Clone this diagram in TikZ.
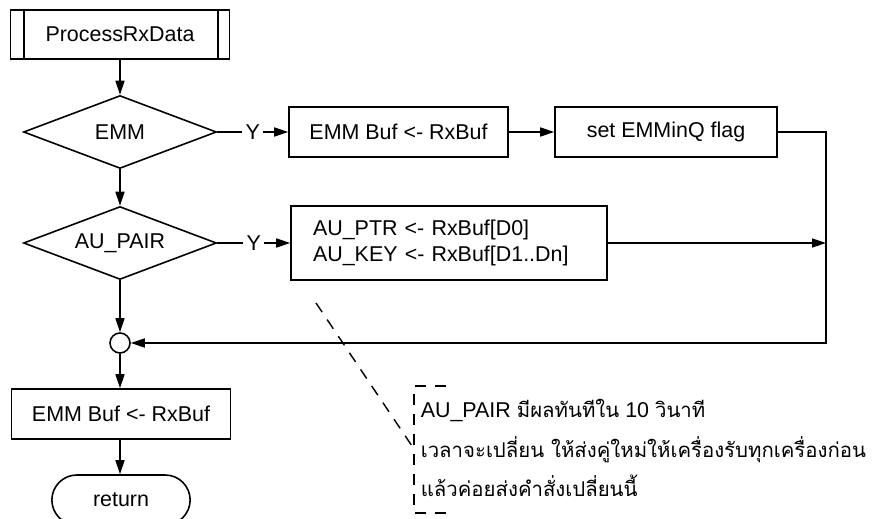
\documentclass[tikz,border=0pt]{standalone}
\usepackage{fontspec}
\setmainfont{Liberation Sans}
\newfontfamily\thaifont[Script=Thai, Scale=0.95]{Loma}
\usetikzlibrary{arrows.meta,shapes.geometric,shapes.misc,calc}

\begin{document}
\begin{tikzpicture}[x=0.02cm, y=-0.02cm, line width=0.9pt,
  >={Triangle[length=0.28cm, width=0.18cm]},
  font=\fontsize{12.2}{14.6}\selectfont,
  procbox/.style={draw, rectangle, minimum width=4.38cm, minimum height=1cm, inner sep=2pt},
  decide/.style={draw, diamond, aspect=2.6, inner sep=1pt, minimum width=3.86cm, minimum height=1.46cm},
  joint/.style={draw, circle, minimum size=0.4cm, inner sep=0pt},
  termbox/.style={draw, rounded rectangle, minimum width=3cm, minimum height=1cm},
  yes/.style={fill=white, inner sep=2pt},
  notedash/.style={line width=0.8pt, dash pattern=on 0.22cm off 0.18cm}]
  \useasboundingbox (0,0) rectangle (875,519);

  %% Main column
  \node[procbox, minimum height=0.98cm] (start) at (120,34.5) {ProcessRxData};
  \draw ($(start.north west)+(14,0)$) -- ($(start.south west)+(14,0)$);
  \draw ($(start.north east)+(-12,0)$) -- ($(start.south east)+(-12,0)$);
  \node[decide] (emm) at (120,132) {EMM};
  \node[decide] (au)  at (120,243) {AU\_PAIR};
  \node[joint] (junc) at (120,343) {};
  \node[procbox] (emmbuf2) at (121,414) {EMM Buf <- RxBuf};
  \node[termbox] (ret) at (121,500) {return};

  %% Right branches
  \node[procbox] (emmbuf) at (398.5,132) {EMM Buf <- RxBuf};
  \node[procbox, minimum width=4.44cm] (setflag) at (666,132) {set EMMinQ flag};
  \node[procbox, text width=5.44cm, inner xsep=0.44cm, minimum height=1.48cm,
        align=left] (aukey) at (449,243)
    {AU\_PTR <- RxBuf[D0]\\AU\_KEY <- RxBuf[D1..Dn]};
  \coordinate (rbus) at (826,343);

  %% Connectors
  \draw[->] (start) -- (emm);
  \draw[->] (emm) -- node[yes] {Y} (emmbuf);
  \draw[->] (emmbuf) -- (setflag);
  \draw[->] (setflag.east) -| (rbus) -- (junc.east);
  \draw[->] (emm) -- (au);
  \draw[->] (au) -- node[yes] {Y} (aukey);
  \draw[->] (aukey.east) -- (aukey.east -| rbus);
  \draw[->] (au) -- (junc);
  \draw[->] (junc.south) -- (junc.south |- emmbuf2.north);
  \draw[->] (emmbuf2.south -| junc) -- (ret.north -| junc);

  %% Comment
  \node[anchor=west, align=left, inner sep=0pt, font=\fontsize{12.2}{22.7}\selectfont] (note) at (420,448)
    {AU\_PAIR {\thaifont มีผลทันทีใน} 10 {\thaifont วินาที}\\
     {\thaifont เวลาจะเปลี่ยน ให้ส่งคู่ใหม่ให้เครื่องรับทุกเครื่องก่อน}\\
     {\thaifont แล้วค่อยส่งคำสั่งเปลี่ยนนี้}};
  \coordinate (bk) at (414,449);
  \coordinate (tail) at (316,303);
  \draw[notedash] ($(bk)+(32,-63)$) -- ($(bk)+(0,-63)$) -- ($(bk)+(0,64)$) -- ($(bk)+(38,64)$);
  \draw[notedash] (tail) -- (bk);
\end{tikzpicture}
\end{document}
